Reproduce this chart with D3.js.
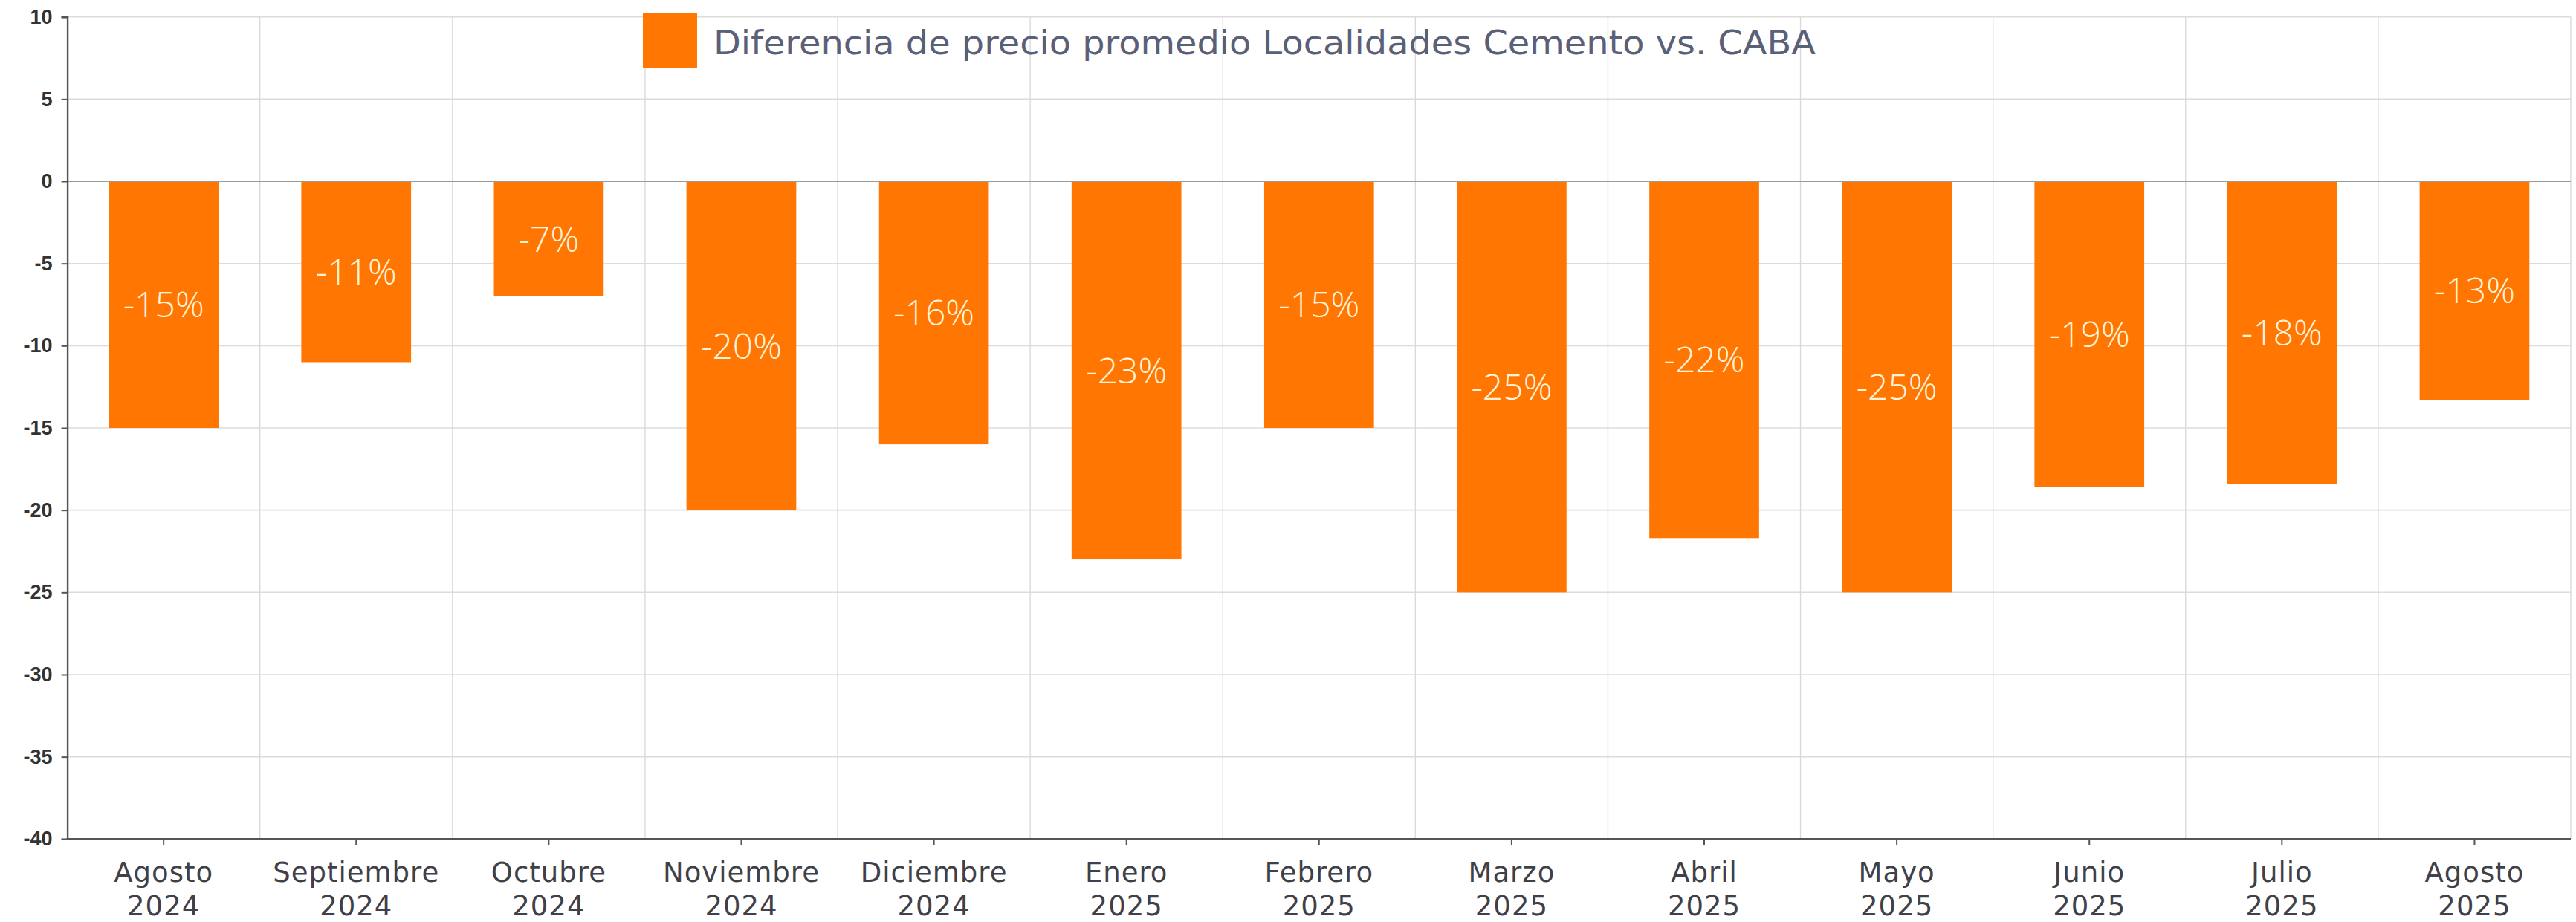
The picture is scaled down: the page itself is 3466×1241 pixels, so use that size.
<!DOCTYPE html>
<html lang="es">
<head>
<meta charset="UTF-8">
<title>Diferencia de precio promedio</title>
<script src="https://cdn.jsdelivr.net/npm/d3@7"></script>
<style>
  body { margin: 0; background: #fff; }
</style>
</head>
<body>
<script>
// data
const months = ["Agosto", "Septiembre", "Octubre", "Noviembre", "Diciembre", "Enero", "Febrero",
                "Marzo", "Abril", "Mayo", "Junio", "Julio", "Agosto"];
const years = ["2024", "2024", "2024", "2024", "2024", "2025", "2025",
               "2025", "2025", "2025", "2025", "2025", "2025"];
const values = [-15, -11, -7, -20, -16, -23, -15, -25, -21.7, -25, -18.6, -18.4, -13.3];
const valueLabels = ["-15%", "-11%", "-7%", "-20%", "-16%", "-23%", "-15%",
                     "-25%", "-22%", "-25%", "-19%", "-18%", "-13%"];
const yTicks = [10, 5, 0, -5, -10, -15, -20, -25, -30, -35, -40];
const seriesName = "Diferencia de precio promedio Localidades Cemento vs. CABA";

const width = 3466, height = 1241;
const margin = { top: 22.7, right: 7, bottom: 111.7, left: 90.6 };

const keys = months.map((m, i) => i);

const svg = d3.select("body").append("svg")
    .attr("width", width)
    .attr("height", height)
    .attr("viewBox", [0, 0, width, height]);

const x = d3.scaleBand()
    .domain(keys)
    .range([margin.left, width - margin.right])
    .paddingInner(0.43)
    .paddingOuter(0.215);

const y = d3.scaleLinear()
    .domain([-40, 10])
    .range([height - margin.bottom, margin.top]);

const step = x.step();
const gap = step * x.paddingInner() / 2;

// horizontal grid
svg.append("g")
    .selectAll("line")
    .data(yTicks.filter(d => d !== -40 && d !== 0))
    .join("line")
    .attr("x1", margin.left)
    .attr("x2", width - margin.right)
    .attr("y1", d => y(d))
    .attr("y2", d => y(d))
    .attr("stroke", "#dcdcdc")
    .attr("stroke-width", 1.6);

// vertical grid between categories
svg.append("g")
    .selectAll("line")
    .data(keys.slice(1).concat([keys.length]))
    .join("line")
    .attr("x1", d => margin.left + d * step)
    .attr("x2", d => margin.left + d * step)
    .attr("y1", y(10))
    .attr("y2", y(-40))
    .attr("stroke", "#dadada")
    .attr("stroke-width", 1.4);

// bars
svg.append("g")
    .selectAll("rect")
    .data(values)
    .join("rect")
    .attr("x", (d, i) => x(i))
    .attr("y", y(0))
    .attr("width", x.bandwidth())
    .attr("height", d => y(d) - y(0))
    .attr("fill", "#ff7602");

// zero line
svg.append("line")
    .attr("x1", margin.left)
    .attr("x2", width - margin.right)
    .attr("y1", y(0))
    .attr("y2", y(0))
    .attr("stroke", "#9a9a9a")
    .attr("stroke-width", 2);

// value labels inside bars
svg.append("g")
    .selectAll("text")
    .data(values)
    .join("text")
    .attr("x", (d, i) => x(i) + x.bandwidth() / 2)
    .attr("y", d => y(d / 2))
    .attr("dy", "0.36em")
    .attr("text-anchor", "middle")
    .attr("font-family", "'Open Sans', sans-serif")
    .attr("font-weight", 300)
    .attr("font-size", 48)
    .attr("fill", "#fff3d8")
    .text((d, i) => valueLabels[i]);

// y axis
const yAxis = svg.append("g")
    .attr("transform", `translate(${margin.left},0)`)
    .call(d3.axisLeft(y).tickValues(yTicks).tickFormat(d => String(d)).tickSize(8).tickPadding(12));
yAxis.select(".domain").attr("stroke", "#555").attr("stroke-width", 2.4);
yAxis.selectAll(".tick line").attr("stroke", "#555").attr("stroke-width", 2);
yAxis.selectAll(".tick text")
    .attr("font-family", "'Liberation Sans', Arial, sans-serif")
    .attr("font-weight", "bold")
    .attr("font-size", 27)
    .attr("fill", "#333");

// x axis
const xAxis = svg.append("g")
    .attr("transform", `translate(0,${y(-40)})`)
    .call(d3.axisBottom(x).tickSize(8).tickFormat(""));
xAxis.select(".domain").attr("stroke", "#555").attr("stroke-width", 2.4)
    .attr("d", `M${margin.left},0H${width - margin.right}`);
xAxis.selectAll(".tick line").attr("stroke", "#555").attr("stroke-width", 2);

const xt = xAxis.selectAll(".tick text")
    .attr("y", 0)
    .attr("dy", null)
    .attr("font-family", "'DejaVu Sans', sans-serif")
    .attr("font-size", 37)
    .attr("letter-spacing", 1)
    .attr("fill", "#3f4048");
xt.append("tspan").attr("x", 0).attr("y", 57.5).text(i => months[i]);
xt.append("tspan").attr("x", 0).attr("y", 102.5).text(i => years[i]);

// legend
const legend = svg.append("g");
legend.append("rect")
    .attr("x", 865)
    .attr("y", 17)
    .attr("width", 73)
    .attr("height", 74)
    .attr("fill", "#ff7602");
legend.append("text")
    .attr("x", 960)
    .attr("y", 72.7)
    .attr("font-family", "'DejaVu Sans', sans-serif")
    .attr("font-size", 44)
    .attr("fill", "#5b6079")
    .attr("textLength", 1483)
    .attr("lengthAdjust", "spacingAndGlyphs")
    .text(seriesName);
</script>
</body>
</html>
